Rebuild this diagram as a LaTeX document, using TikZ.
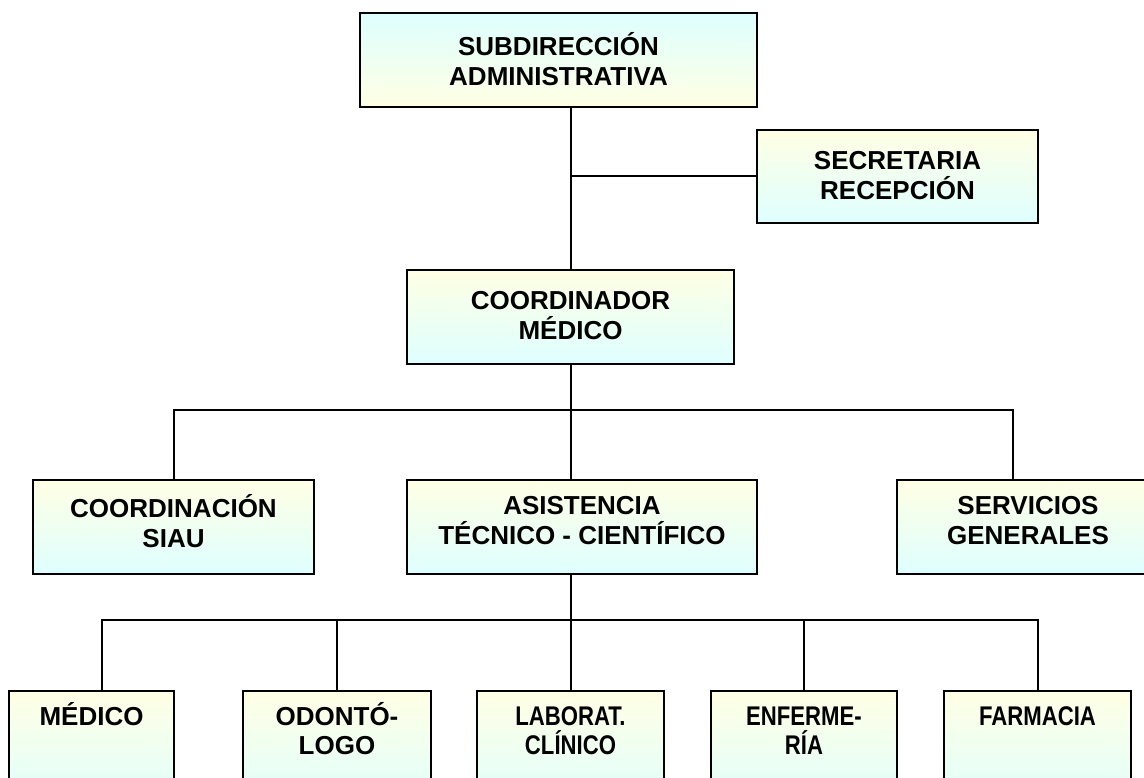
\documentclass[tikz,border=0pt]{standalone}
\usepackage{fontspec}
\setmainfont{Liberation Sans}
\newfontfamily\narrowfont[FakeStretch=0.82]{Liberation Sans}
\begin{document}
\definecolor{lyel}{RGB}{255,255,228}
\definecolor{lcya}{RGB}{222,255,255}
\begin{tikzpicture}[x=1pt,y=-1pt,
  box/.style={draw=black, line width=2pt, rectangle, inner sep=0pt, anchor=north west,
    top color=lyel, bottom color=lcya},
  boxinv/.style={box, top color=lcya, bottom color=lyel},
  txt/.style={align=center, font=\bfseries\fontsize{26}{30}\selectfont, inner sep=0pt},
  btxt/.style={align=center, font=\bfseries\fontsize{26}{29}\selectfont, inner sep=0pt, anchor=base},
  ntxt/.style={align=center, font=\narrowfont\bfseries\fontsize{27}{29}\selectfont, inner sep=0pt, anchor=base},
  conn/.style={draw=black, line width=2pt}]
\useasboundingbox (0,0) rectangle (1144,778);
\clip (0,0) rectangle (1144,778);
% boxes
\node[boxinv, minimum width=397, minimum height=94] (sub) at (359,12) {};
\node[txt] (subt) at ([yshift=1]sub.center) {SUBDIRECCIÓN\\ADMINISTRATIVA};
\node[box, minimum width=281, minimum height=93] (sec) at (756,129) {};
\node[txt] (sect) at ([yshift=1]sec.center) {SECRETARIA\\RECEPCIÓN};
\node[box, minimum width=327, minimum height=94] (coord) at (406,269) {};
\node[txt] (coordt) at ([yshift=1]coord.center) {COORDINADOR\\MÉDICO};
\node[box, minimum width=281, minimum height=94] (siau) at (32,479) {};
\node[txt] (siaut) at ([yshift=6]siau.center) {COORDINACIÓN\\SIAU};
\node[box, minimum width=350, minimum height=94] (asis) at (406,479) {};
\node[txt] (asist) at ([yshift=6]asis.center) {ASISTENCIA\\TÉCNICO - CIENTÍFICO};
\node[box, minimum width=262, minimum height=94] (serv) at (896,479) {};
\node[txt] (servt) at ([yshift=6]serv.center) {SERVICIOS\\GENERALES};
% bottom row
\node[box, minimum width=165, minimum height=120] (med) at (8,690) {};
\node[btxt] (medt) at (med.north |- 0,725) {MÉDICO};
\node[box, minimum width=188, minimum height=120] (odo) at (242,690) {};
\node[btxt] (odot) at (odo.north |- 0,754) {ODONTÓ-\\LOGO};
\node[box, minimum width=187, minimum height=120] (lab) at (476,690) {};
\node[ntxt] (labt) at (lab.north |- 0,754) {LABORAT.\\CLÍNICO};
\node[box, minimum width=186, minimum height=120] (enf) at (710,690) {};
\node[ntxt] (enft) at (enf.north |- 0,754) {ENFERME-\\RÍA};
\node[box, minimum width=187, minimum height=120] (far) at (943,690) {};
\node[ntxt] (fart) at (far.north |- 0,725) {FARMACIA};
% connectors
\coordinate (bus1) at (569.5,410);
\coordinate (servdrop) at (1013,479);
\coordinate (bus2) at (569.5,620);
\coordinate (meddrop) at (102,690);
\draw[conn] (coord.north) -- (coord.north |- sub.south);
\draw[conn] (sec.west) -- (sec.west -| coord.north);
\draw[conn] (coord.south) -- (coord.south |- asis.north);
\draw[conn] (siau.north) |- (bus1) -| (servdrop);
\draw[conn] (lab.north) -- (lab.north |- asis.south);
\draw[conn] (meddrop) |- (bus2) -| (far.north);
\draw[conn] (odo.north) -- (odo.north |- bus2);
\draw[conn] (enf.north) -- (enf.north |- bus2);
\end{tikzpicture}
\end{document}
